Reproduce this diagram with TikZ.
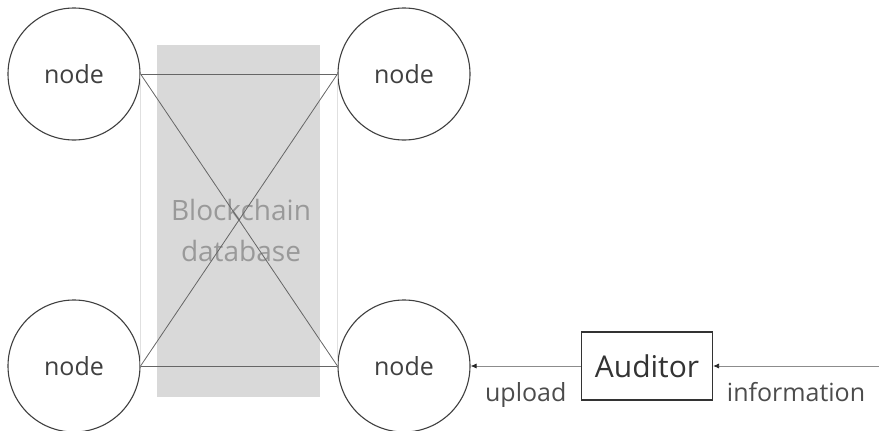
\documentclass[tikz,border=0pt]{standalone}
\usepackage{fontspec}
\setmainfont{Open Sans}
\usetikzlibrary{arrows.meta}

\tikzstyle{peer}=[circle,minimum size=132pt,inner sep=0pt,draw=black!75,line width=1.1pt,fill=white,text=black!75,font=\fontsize{25}{30}\selectfont]
\tikzstyle{auditbox}=[rectangle,minimum width=131pt,minimum height=68pt,draw=black!80,line width=1.1pt,text=black!80,font=\fontsize{30}{36}\selectfont]
\tikzstyle{link}=[draw=black!60,line width=0.8pt]
\tikzstyle{flow}=[draw=black!45,line width=0.8pt,-{Latex[length=6pt,width=5pt,color=black!85]}]
\tikzstyle{tag}=[text=black!70,font=\fontsize{25}{30}\selectfont]

\begin{document}
\begin{tikzpicture}[x=1pt,y=-1pt]
  \useasboundingbox (0,0) rectangle (879,431);
  \fill[black!15] (157,45) rectangle (320,397);
  \node (chain) [align=center,text=black!40,font=\fontsize{28}{41}\selectfont] at (241,230) {Blockchain\\database};

  \node (nTL) [peer] at (74,74) {node};
  \node (nTR) [peer] at (404,74) {node};
  \node (nBL) [peer] at (74,366) {node};
  \node (nBR) [peer] at (404,366) {node};
  \node (aud) [auditbox] at (647,366) {Auditor};
  \coordinate (src) at (879,366);

  \path[draw=black!12,line width=0.8pt]
  (nTL.east) edge (nBL.east)
  (nTR.west) edge (nBR.west);
  \path[link]
  (nTL.east) edge (nTR.west)
  (nBL.east) edge (nBR.west)
  (nTL.east) edge (nBR.west)
  (nBL.east) edge (nTR.west);
  \path
  (src) edge[flow] node[tag,below=13pt,midway] {information} (aud.east)
  (aud.west) edge[flow] node[tag,below=13pt,midway] {upload} (nBR.east);
\end{tikzpicture}
\end{document}
